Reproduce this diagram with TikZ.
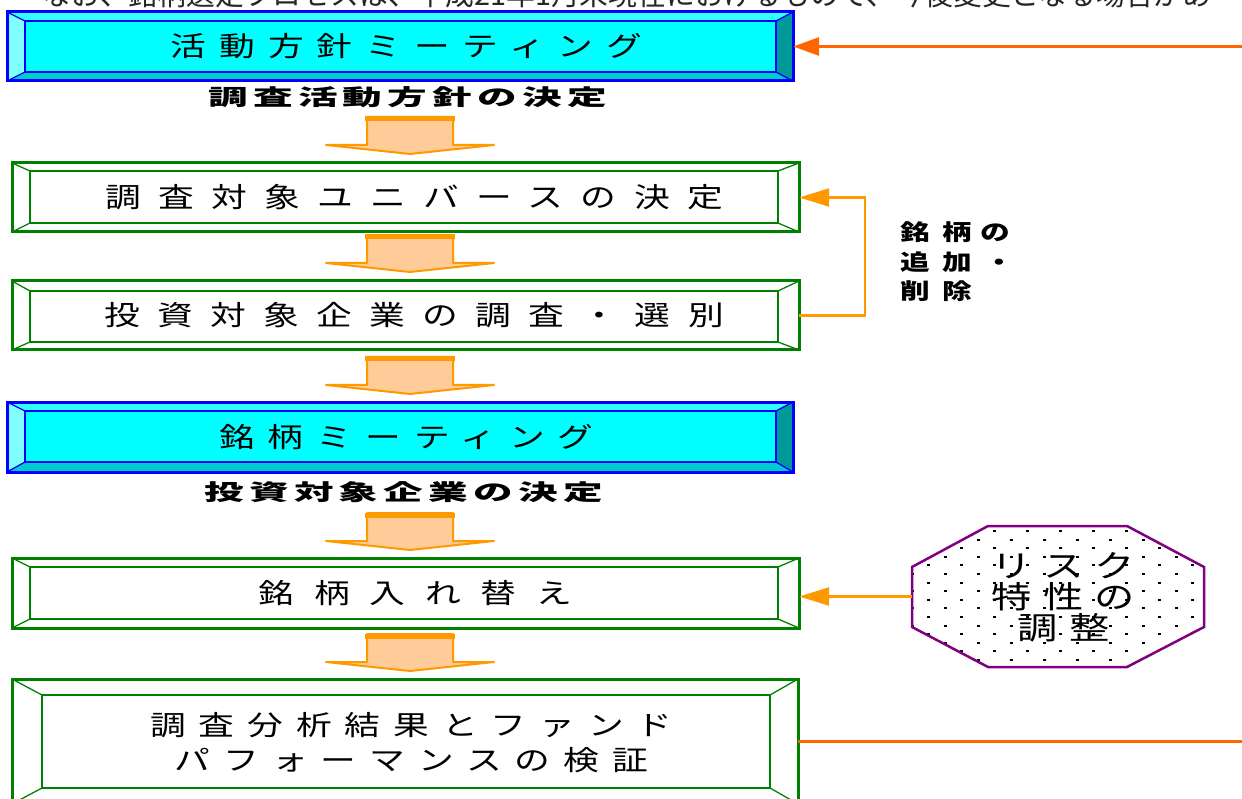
\documentclass[tikz,border=0pt]{standalone}
\usepackage{fontspec}
\usetikzlibrary{arrows.meta,calc}
\setmainfont{Noto Sans CJK JP}
\newfontfamily\jp{Noto Sans CJK JP}
\newfontfamily\boxf[FakeStretch=1.3,LetterSpace=63]{Noto Sans CJK JP}
\newfontfamily\boxg[FakeStretch=1.3,LetterSpace=47]{Noto Sans CJK JP}
\newfontfamily\boxh[FakeStretch=1.3,LetterSpace=72]{Noto Sans CJK JP}
\newfontfamily\octf[FakeStretch=1.3,LetterSpace=36]{Noto Sans CJK JP}
\newfontfamily\lblf[FakeStretch=1.8,LetterSpace=24]{Noto Sans CJK JP}
\newfontfamily\sidef[FakeStretch=1.35,LetterSpace=56]{Noto Sans CJK JP}
\definecolor{bvblue}{HTML}{0000FF}
\definecolor{cyT}{HTML}{33FFFF}
\definecolor{cyL}{HTML}{80FFFF}
\definecolor{cyB}{HTML}{00CCCC}
\definecolor{cyR}{HTML}{009999}
\definecolor{cyI}{HTML}{00FFFF}
\definecolor{grn}{HTML}{008000}
\definecolor{orA}{HTML}{FF6600}
\definecolor{orB}{HTML}{FF9900}
\definecolor{peach}{HTML}{FFCC99}
\definecolor{purp}{HTML}{800080}
\tikzset{
  cyanset/.code={\colorlet{bvT}{cyT}\colorlet{bvL}{cyL}\colorlet{bvB}{cyB}\colorlet{bvR}{cyR}\colorlet{bvI}{cyI}\colorlet{bvD}{bvblue}},
  greenset/.code={\colorlet{bvT}{white}\colorlet{bvL}{white}\colorlet{bvB}{white}\colorlet{bvR}{white}\colorlet{bvI}{white}\colorlet{bvD}{grn}},
  boxtxt/.style={font=\boxf\fontsize{27.5}{35}\selectfont, inner sep=0pt, xshift=8.5pt, align=center},
  boxtxtk/.style={font=\boxg\fontsize{27.5}{35}\selectfont, inner sep=0pt, xshift=6.5pt, align=center},
  boxtxtw/.style={font=\boxh\fontsize{27.5}{35}\selectfont, inner sep=0pt, xshift=10pt, align=center},
  octtxt/.style={font=\octf\fontsize{31}{31}\selectfont, inner sep=0pt, xshift=5.5pt, align=center},
  lbl/.style={font=\lblf\bfseries\fontsize{22}{26}\selectfont, inner sep=0pt, xshift=2.7pt},
  side/.style={font=\sidef\bfseries\fontsize{22}{29.5}\selectfont, inner sep=0pt, align=left},
  connA/.style={draw=orA, line width=3pt},
  connB/.style={draw=orB, line width=2.5pt},
  tipA/.style={-{Triangle[length=26pt,width=18pt]}},
  tipB/.style={-{Triangle[length=30pt,width=18pt]}}
}
\def\bvname{bx}
\newcommand\bvbox[9]{%
\begin{scope}[#1]
\fill[bvT] (#2,#3) -- (#4,#3) -- (#8,#7) -- (#6,#7) -- cycle;
\fill[bvL] (#2,#3) -- (#6,#7) -- (#6,#9) -- (#2,#5) -- cycle;
\fill[bvB] (#2,#5) -- (#6,#9) -- (#8,#9) -- (#4,#5) -- cycle;
\fill[bvR] (#4,#3) -- (#4,#5) -- (#8,#9) -- (#8,#7) -- cycle;
\fill[bvI] (#6,#7) rectangle (#8,#9);
\draw[bvD, line width=1.3pt] (#2,#3) -- (#6,#7) (#4,#3) -- (#8,#7) (#2,#5) -- (#6,#9) (#4,#5) -- (#8,#9);
\draw[bvD, line width=2.6pt] (#6,#7) rectangle (#8,#9);
\draw[bvD, line width=3pt] (#2,#3) rectangle (#4,#5);
\node[inner sep=0pt, minimum width={(#4-#2)*1pt}, minimum height={(#5-#3)*1pt}] (\bvname) at ({(#2+#4)/2},{(#3+#5)/2}) {};
\end{scope}}
\newcommand\blkarr[2]{%
\fill[peach] (#1-43,#2) -- (#1+43,#2) -- (#1+43,#2+28) -- (#1+84,#2+28) -- (#1,#2+37) -- (#1-84,#2+28) -- (#1-43,#2+28) -- cycle;
\draw[orB, line width=2pt, line join=round] (#1-84,#2+28) -- (#1-43,#2+28) -- (#1-43,#2) -- (#1+43,#2) -- (#1+43,#2+28) -- (#1+84,#2+28) -- (#1,#2+37) -- cycle;
\draw[orB, line width=5pt] (#1-45,#2+2) -- (#1+45,#2+2);
}
\begin{document}
\begin{tikzpicture}[x=1pt,y=-1pt]
\useasboundingbox (0,0) rectangle (1242,799);
\clip (0,0) rectangle (1242,799);
\fill[white] (0,0) rectangle (1242,799);
% top note (cut off)
\node[font=\jp\fontsize{28.8}{30}\selectfont, anchor=base, text=black!85, inner sep=0pt] (note) at (627,6) {なお、銘柄選定プロセスは、平成21年1月末現在におけるもので、今後変更となる場合があ};
% boxes
\def\bvname{b1}\bvbox{cyanset}{7}{12}{793}{81}{25}{21}{776}{72}
\def\bvname{b2}\bvbox{greenset}{12}{163}{799}{232}{30}{171}{778}{223}
\def\bvname{b3}\bvbox{greenset}{12}{281}{799}{350}{30}{291}{778}{342}
\def\bvname{b4}\bvbox{cyanset}{7}{402}{793}{472}{25}{411}{776}{462}
\def\bvname{b5}\bvbox{greenset}{12}{558}{799}{628}{30}{567}{778}{619}
\def\bvname{b6}\bvbox{greenset}{12}{679}{798}{804}{42}{695}{770}{788}
% box texts
\node[boxtxtk] (t1) at (b1) {活動方針ミーティング};
\node[boxtxt] (t2) at (b2) {調査対象ユニバースの決定};
\node[boxtxt] (t3) at (b3) {投資対象企業の調査・選別};
\node[boxtxtk] (t4) at (b4) {銘柄ミーティング};
\node[boxtxtw] (t5) at (b5) {銘柄入れ替え};
\node[boxtxtk] (t6) at ([yshift=-1pt]b6) {調査分析結果とファンド\\パフォーマンスの検証};
% labels
\node[lbl] (l1) at (405,97) {調査活動方針の決定};
\node[lbl] (l2) at (401,492) {投資対象企業の決定};
\node[side, anchor=west] (l3) at (900,262) {銘柄\kern9pt の\\追加・\\削除};
% block arrows
\blkarr{410}{117}
\blkarr{410}{235}
\blkarr{410}{357}
\blkarr{410}{513}
\blkarr{410}{634}
% octagon
\fill[white] (988,526) -- (1127,526) -- (1204,567) -- (1204,627) -- (1127,667) -- (988,667) -- (912,627) -- (912,567) -- cycle;
\begin{scope}
\clip (988,526) -- (1127,526) -- (1204,567) -- (1204,627) -- (1127,667) -- (988,667) -- (912,627) -- (912,567) -- cycle;
\foreach \r in {0,...,16}{\foreach \c in {0,...,9}{
  \fill[black] ({927-16.5*mod(\r,2)+33*\c},{530+8.6*\r}) rectangle ++(3,2);
}}
\end{scope}
\draw[purp, line width=2.5pt] (988,526) -- (1127,526) -- (1204,567) -- (1204,627) -- (1127,667) -- (988,667) -- (912,627) -- (912,567) -- cycle;
\node[inner sep=0pt, minimum width=292pt, minimum height=141pt] (oct) at (1058,596.5) {};
\node[octtxt] (octt) at (1058,597) {リスク\\特性の\\調整};
% connectors
\coordinate (r1) at (1242,46.5);
\coordinate (r6) at (1242,741.5);
\draw[connA, tipA] (r1) -- (b1.east);
\draw[connB, tipB] (b3.east) -- ++(66,0) |- (b2.east);
\draw[connB, tipB] (oct.west) -- (b5.east |- oct.west);
\draw[connA] (b6.east) -- (r6);
\end{tikzpicture}
\end{document}
